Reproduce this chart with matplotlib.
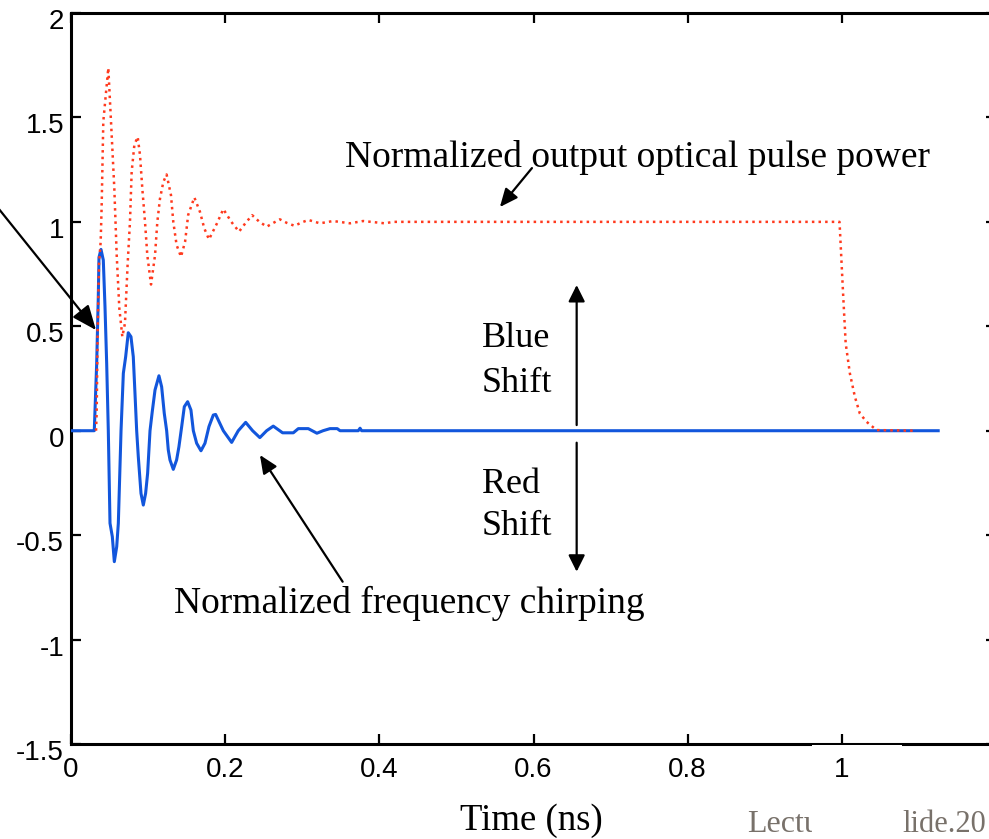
import matplotlib
matplotlib.use("Agg")
import matplotlib.pyplot as plt
from matplotlib.patches import Rectangle
import matplotlib.transforms as mtransforms

# ---------------- data ----------------
t_power = [0.0325, 0.0333, 0.0346, 0.0363, 0.0385, 0.0398, 0.0419, 0.0484,
           0.0519, 0.0562, 0.0593, 0.0627, 0.0666, 0.0700, 0.0735, 0.0765,
           0.0787, 0.0822, 0.0865, 0.0895, 0.0925, 0.0960, 0.0990, 0.1038,
           0.1090, 0.1120, 0.1154, 0.1197, 0.1240, 0.1297, 0.1327, 0.1370,
           0.1427, 0.1480, 0.1520, 0.1600, 0.1673, 0.1729, 0.1790, 0.1890,
           0.1976, 0.2080, 0.2180, 0.2265, 0.2350, 0.2445, 0.2540, 0.2625,
           0.2710, 0.2800, 0.2900, 0.2990, 0.3080, 0.3230, 0.3400, 0.3620,
           0.3790, 0.4070, 0.4180, 0.9970, 1.0016, 1.0050, 1.0104, 1.0169,
           1.0233, 1.0320, 1.0450, 1.0970]
power = [0.00, 0.085, 0.48, 0.80, 0.905, 1.08, 1.48, 1.737,
         1.48, 1.16, 0.84, 0.586, 0.45, 0.514, 0.80, 1.00,
         1.24, 1.368, 1.407, 1.32, 1.16, 1.00, 0.84, 0.70,
         0.84, 1.00, 1.11, 1.19, 1.227, 1.128, 1.00, 0.889,
         0.833, 0.905, 1.033, 1.117, 1.048, 0.969, 0.916, 0.99,
         1.061, 1.00, 0.953, 0.995, 1.032, 1.00, 0.977, 0.995,
         1.012, 0.995, 0.981, 0.997, 1.009, 0.993, 1.004, 0.993,
         1.004, 0.993, 1.00, 1.00, 0.658, 0.418, 0.275, 0.163,
         0.083, 0.043, 0.003, 0.00]

t_chirp = [0.0, 0.0302, 0.0333, 0.0354, 0.0363, 0.0389, 0.0419, 0.0441,
           0.0463, 0.0484, 0.0506, 0.0536, 0.0562, 0.0593, 0.0614, 0.0649,
           0.0679, 0.0709, 0.0743, 0.0778, 0.0808, 0.0830, 0.0852, 0.0873,
           0.0908, 0.0938, 0.0968, 0.0994, 0.1025, 0.1054, 0.1090, 0.1141,
           0.1176, 0.1210, 0.1241, 0.1262, 0.1284, 0.1327, 0.1370, 0.1400,
           0.1436, 0.1470, 0.1513, 0.1556, 0.1587, 0.1630, 0.1686, 0.1738,
           0.1790, 0.1846, 0.1876, 0.1976, 0.2084, 0.2170, 0.2266, 0.2356,
           0.2450, 0.2538, 0.2624, 0.2745, 0.2884, 0.2949, 0.3078, 0.3190,
           0.3270, 0.3360, 0.3454, 0.3490, 0.3727, 0.3750, 0.3770, 1.1250]
chirp = [0.0, 0.0, 0.32, 0.64, 0.83, 0.868, 0.817, 0.594,
         0.32, 0.0, -0.443, -0.507, -0.627, -0.555, -0.443, 0.0,
         0.275, 0.354, 0.469, 0.45, 0.354, 0.179, 0.0, -0.124,
         -0.30, -0.356, -0.30, -0.204, 0.0, 0.091, 0.195, 0.263,
         0.21, 0.083, 0.0, -0.092, -0.14, -0.185, -0.14, -0.077,
         0.02, 0.115, 0.139, 0.099, 0.0, -0.06, -0.096, -0.06,
         0.02, 0.075, 0.078, 0.0, -0.056, 0.0, 0.04, 0.0,
         -0.033, 0.0, 0.022, -0.01, -0.01, 0.01, 0.01, -0.012,
         0.0, 0.01, 0.01, 0.0, 0.0, 0.012, 0.0, 0.0]

x_ticks = [0, 0.2, 0.4, 0.6, 0.8, 1.0]
x_tick_labels = ["0", "0.2", "0.4", "0.6", "0.8", "1"]
y_ticks = [-1.5, -1, -0.5, 0, 0.5, 1, 1.5, 2]
y_tick_labels = ["-1.5", "-1", "-0.5", "0", "0.5", "1", "1.5", "2"]

# ---------------- figure ----------------
W, H = 989, 839
fig = plt.figure(figsize=(W / 100, H / 100), dpi=100)
fig.patch.set_facecolor("white")

def fx(px):
    return px / W

def fy(py):
    return 1 - py / H

ax = fig.add_axes([fx(71), fy(744), 925 / W, 731 / H])
ax.set_xlim(0, 1.2)
ax.set_ylim(-1.5, 2)

ax.plot(t_chirp, chirp, color="#1256dc", lw=2.2, zorder=3, solid_joinstyle="round")
ax.plot(t_power, power, color="#ff3a1e", lw=1.8, ls=":", zorder=4)

ax.set_xticks(x_ticks)
ax.set_xticklabels(x_tick_labels)
ax.set_yticks(y_ticks)
ax.set_yticklabels(y_tick_labels)

for lab in ax.get_xticklabels() + ax.get_yticklabels():
    lab.set_fontfamily("Liberation Sans")
    lab.set_fontsize(20)

ax.tick_params(axis="both", which="major", direction="in", length=7, width=1.6,
               top=True, right=True, colors="black")
ax.tick_params(axis="x", pad=9.5)
ax.tick_params(axis="y", pad=5)
for sp in ax.spines.values():
    sp.set_linewidth(2.2)
    sp.set_color("black")

# shift y tick labels slightly down (MATLAB style)
offset = mtransforms.ScaledTranslation(0, -6 / 100, fig.dpi_scale_trans)
for lab in ax.get_yticklabels():
    lab.set_transform(lab.get_transform() + offset)

serif = ["Liberation Serif", "DejaVu Serif"]

# texts
fig.text(fx(345), fy(167), "Normalized output optical pulse power", family=serif,
         size=27, ha="left", va="baseline")
fig.text(fx(174), fy(613), "Normalized frequency chirping", family=serif,
         size=27, ha="left", va="baseline")
fig.text(fx(482), fy(347), "Blue", family=serif, size=26, ha="left", va="baseline")
fig.text(fx(482), fy(392), "Shift", family=serif, size=26, ha="left", va="baseline")
fig.text(fx(482), fy(493), "Red", family=serif, size=26, ha="left", va="baseline")
fig.text(fx(482), fy(535), "Shift", family=serif, size=26, ha="left", va="baseline")
fig.text(fx(531), fy(830), "Time (ns)", family=serif, size=26.5, ha="center", va="baseline")

# footer fragments (partly hidden in the reference by a white patch)
fig.text(fx(747), fy(832), "Lectu", family=serif, size=23, color="#78716a",
         ha="left", va="baseline")
fig.text(fx(902), fy(832), "lide.20", family=serif, size=22, color="#78716a",
         ha="left", va="baseline")
fig.patches.append(Rectangle((fx(812), 0), fx(902) - fx(812), fy(800),
                             transform=fig.transFigure, facecolor="white",
                             edgecolor="none", zorder=10))
fig.patches.append(Rectangle((fx(812), fy(747.5)), fx(902) - fx(812), 2.2 / H,
                             transform=fig.transFigure, facecolor="white",
                             edgecolor="none", zorder=10))

# arrows (data coordinates)
ax.annotate("", xy=(0.0324, 0.482), xytext=(-0.0986, 1.085),
            arrowprops=dict(arrowstyle="-|>,head_length=0.6,head_width=0.25",
                            mutation_scale=25, lw=1.6, color="black",
                            shrinkA=0, shrinkB=0),
            annotation_clip=False, zorder=6)
ax.annotate("", xy=(0.5564, 1.071), xytext=(0.598, 1.2575),
            arrowprops=dict(arrowstyle="-|>,head_length=0.5,head_width=0.22",
                            mutation_scale=22, lw=1.6, color="black",
                            shrinkA=0, shrinkB=0),
            annotation_clip=False, zorder=6)
ax.annotate("", xy=(0.2451, -0.1163), xytext=(0.3524, -0.723),
            arrowprops=dict(arrowstyle="-|>,head_length=0.5,head_width=0.22",
                            mutation_scale=22, lw=1.6, color="black",
                            shrinkA=0, shrinkB=0),
            annotation_clip=False, zorder=6)
ax.annotate("", xy=(0.656, 0.6975), xytext=(0.656, 0.027),
            arrowprops=dict(arrowstyle="-|>,head_length=0.5,head_width=0.25",
                            mutation_scale=20, lw=1.6, color="black",
                            shrinkA=0, shrinkB=0),
            annotation_clip=False, zorder=6)
ax.annotate("", xy=(0.656, -0.675), xytext=(0.656, -0.0574),
            arrowprops=dict(arrowstyle="-|>,head_length=0.5,head_width=0.25",
                            mutation_scale=20, lw=1.6, color="black",
                            shrinkA=0, shrinkB=0),
            annotation_clip=False, zorder=6)

fig.savefig("out.png", dpi=100, facecolor="white")
